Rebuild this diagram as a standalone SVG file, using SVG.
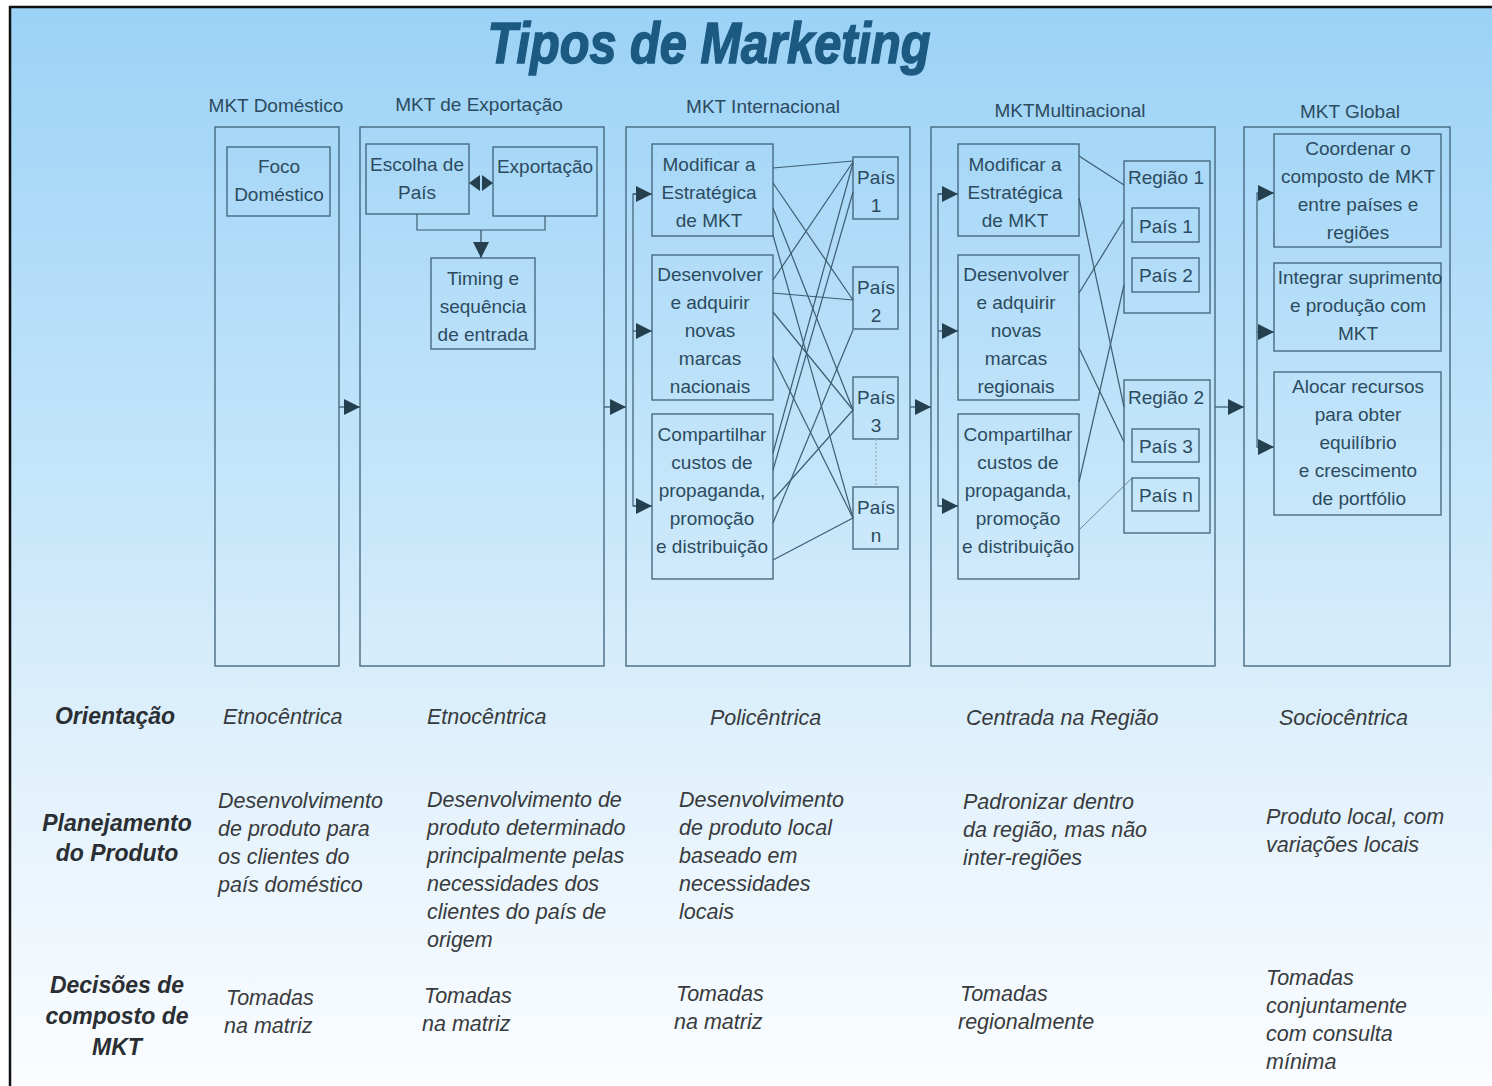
<svg xmlns="http://www.w3.org/2000/svg" width="1492" height="1086" viewBox="0 0 1492 1086">
<defs>
<linearGradient id="bg" x1="0" y1="0" x2="0" y2="1">
<stop offset="0" stop-color="#9bd2f6"/>
<stop offset="0.45" stop-color="#c6e6fa"/>
<stop offset="0.75" stop-color="#e6f3fc"/>
<stop offset="1" stop-color="#fbfdff"/>
</linearGradient>
<marker id="ah" viewBox="0 0 10 10" refX="10" refY="5" markerWidth="16" markerHeight="18" markerUnits="userSpaceOnUse" orient="auto">
<path d="M0,0 L10,5 L0,10 Z" fill="#24404f"/>
</marker>
</defs>
<style>
.frame{fill:none;stroke:#3f6178;stroke-width:1.3}
.box{fill:none;stroke:#3f6178;stroke-width:1.3}
.t{font-family:"Liberation Sans",Arial,sans-serif;font-size:19px;fill:#2c4b5f;text-anchor:middle}
.h{font-family:"Liberation Sans",Arial,sans-serif;font-size:19px;fill:#2c4b5f;text-anchor:middle}
.rl{font-family:"Liberation Sans",Arial,sans-serif;font-size:23px;font-weight:bold;font-style:italic;fill:#2b2f33;text-anchor:middle}
.it{font-family:"Liberation Sans",Arial,sans-serif;font-size:21.5px;font-style:italic;fill:#383b3e}
.ln{fill:none;stroke:#3d5d72;stroke-width:1.2}
.ar{fill:none;stroke:#3d5d72;stroke-width:1.3;marker-end:url(#ah)}
.hd{fill:#24404f}
</style>
<rect x="0" y="0" width="1492" height="1086" fill="#ffffff"/>
<rect x="10" y="7" width="1482" height="1079" fill="url(#bg)"/>
<line x1="9" y1="7" x2="1492" y2="7" stroke="#111" stroke-width="2.5"/>
<line x1="10" y1="6" x2="10" y2="1086" stroke="#111" stroke-width="2.5"/>

<text x="709" y="63" font-family="Liberation Sans,Arial,sans-serif" font-size="58" font-weight="bold" font-style="italic" fill="#1d5a82" stroke="#1d5a82" stroke-width="1.6" text-anchor="middle" textLength="443" lengthAdjust="spacingAndGlyphs">Tipos de Marketing</text>

<!-- column headers -->
<text class="h" x="276" y="112">MKT Doméstico</text>
<text class="h" x="479" y="111">MKT de Exportação</text>
<text class="h" x="763" y="113">MKT Internacional</text>
<text class="h" x="1070" y="117">MKTMultinacional</text>
<text class="h" x="1350" y="118">MKT Global</text>

<!-- frames -->
<g id="frame-domestico"><rect class="frame" x="215" y="127" width="124" height="539"/></g>
<g id="frame-exportacao"><rect class="frame" x="360" y="127" width="244" height="539"/></g>
<g id="frame-internacional"><rect class="frame" x="626" y="127" width="284" height="539"/></g>
<g id="frame-multinacional"><rect class="frame" x="931" y="127" width="284" height="539"/></g>
<g id="frame-global"><rect class="frame" x="1244" y="127" width="206" height="539"/></g>

<!-- domestic -->
<g id="foco"><rect class="box" x="227" y="147" width="103" height="69"/>
<text class="t" x="279" y="173">Foco</text><text class="t" x="279" y="201">Doméstico</text></g>

<!-- export -->
<g id="escolha"><rect class="box" x="366" y="144" width="103" height="70"/>
<text class="t" x="417" y="171">Escolha de</text><text class="t" x="417" y="199">País</text></g>
<g id="exportacao"><rect class="box" x="493" y="147" width="104" height="69"/>
<text class="t" x="545" y="173">Exportação</text></g>
<g id="timing"><rect class="box" x="431" y="258" width="104" height="91"/>
<text class="t" x="483" y="285">Timing e</text><text class="t" x="483" y="313">sequência</text><text class="t" x="483" y="341">de entrada</text></g>

<!-- international -->
<g id="int-modificar"><rect class="box" x="652" y="144" width="121" height="92"/>
<text class="t" x="709" y="171">Modificar a</text><text class="t" x="709" y="199">Estratégica</text><text class="t" x="709" y="227">de MKT</text></g>
<g id="int-desenvolver"><rect class="box" x="652" y="255" width="121" height="145"/>
<text class="t" x="710" y="281">Desenvolver</text><text class="t" x="710" y="309">e adquirir</text><text class="t" x="710" y="337">novas</text><text class="t" x="710" y="365">marcas</text><text class="t" x="710" y="393">nacionais</text></g>
<g id="int-compartilhar"><rect class="box" x="652" y="414" width="121" height="165"/>
<text class="t" x="712" y="441">Compartilhar</text><text class="t" x="712" y="469">custos de</text><text class="t" x="712" y="497">propaganda,</text><text class="t" x="712" y="525">promoção</text><text class="t" x="712" y="553">e distribuição</text></g>
<g id="int-pais1"><rect class="box" x="853" y="157" width="45" height="62"/>
<text class="t" x="876" y="184">País</text><text class="t" x="876" y="212">1</text></g>
<g id="int-pais2"><rect class="box" x="853" y="267" width="45" height="62"/>
<text class="t" x="876" y="294">País</text><text class="t" x="876" y="322">2</text></g>
<g id="int-pais3"><rect class="box" x="853" y="377" width="45" height="62"/>
<text class="t" x="876" y="404">País</text><text class="t" x="876" y="432">3</text></g>
<g id="int-paisn"><rect class="box" x="853" y="487" width="45" height="62"/>
<text class="t" x="876" y="514">País</text><text class="t" x="876" y="542">n</text></g>

<!-- multinational -->
<g id="mn-modificar"><rect class="box" x="958" y="144" width="121" height="92"/>
<text class="t" x="1015" y="171">Modificar a</text><text class="t" x="1015" y="199">Estratégica</text><text class="t" x="1015" y="227">de MKT</text></g>
<g id="mn-desenvolver"><rect class="box" x="958" y="255" width="121" height="145"/>
<text class="t" x="1016" y="281">Desenvolver</text><text class="t" x="1016" y="309">e adquirir</text><text class="t" x="1016" y="337">novas</text><text class="t" x="1016" y="365">marcas</text><text class="t" x="1016" y="393">regionais</text></g>
<g id="mn-compartilhar"><rect class="box" x="958" y="414" width="121" height="165"/>
<text class="t" x="1018" y="441">Compartilhar</text><text class="t" x="1018" y="469">custos de</text><text class="t" x="1018" y="497">propaganda,</text><text class="t" x="1018" y="525">promoção</text><text class="t" x="1018" y="553">e distribuição</text></g>
<g id="mn-regiao1"><rect class="box" x="1124" y="161" width="86" height="152"/>
<text class="t" x="1166" y="184">Região 1</text></g>
<g id="mn-pais1"><rect class="box" x="1132" y="208" width="67" height="34"/>
<text class="t" x="1166" y="233">País 1</text></g>
<g id="mn-pais2"><rect class="box" x="1132" y="258" width="67" height="34"/>
<text class="t" x="1166" y="282">País 2</text></g>
<g id="mn-regiao2"><rect class="box" x="1124" y="380" width="86" height="153"/>
<text class="t" x="1166" y="404">Região 2</text></g>
<g id="mn-pais3"><rect class="box" x="1132" y="429" width="67" height="33"/>
<text class="t" x="1166" y="453">País 3</text></g>
<g id="mn-paisn"><rect class="box" x="1132" y="478" width="67" height="33"/>
<text class="t" x="1166" y="502">País n</text></g>

<!-- global -->
<g id="gl-coordenar"><rect class="box" x="1274" y="134" width="167" height="113"/>
<text class="t" x="1358" y="155">Coordenar o</text><text class="t" x="1358" y="183">composto de MKT</text><text class="t" x="1358" y="211">entre países e</text><text class="t" x="1358" y="239">regiões</text></g>
<g id="gl-integrar"><rect class="box" x="1274" y="263" width="167" height="88"/>
<text class="t" x="1360" y="284">Integrar suprimento</text><text class="t" x="1358" y="312">e produção com</text><text class="t" x="1358" y="340">MKT</text></g>
<g id="gl-alocar"><rect class="box" x="1274" y="372" width="167" height="143"/>
<text class="t" x="1358" y="393">Alocar recursos</text><text class="t" x="1358" y="421">para obter</text><text class="t" x="1358" y="449">equilíbrio</text><text class="t" x="1358" y="477">e crescimento</text><text class="t" x="1359" y="505">de portfólio</text></g>

<!-- connectors -->
<g id="connectors">
<line class="ar" x1="339" y1="407" x2="360" y2="407"/>
<line class="ar" x1="604" y1="407" x2="626" y2="407"/>
<line class="ar" x1="910" y1="407" x2="931" y2="407"/>
<line class="ar" x1="1215" y1="407" x2="1244" y2="407"/>

<!-- export internal -->
<path class="hd" d="M480,175 L469,183 L480,191 Z"/>
<path class="hd" d="M482,175 L493,183 L482,191 Z"/>
<path class="ln" d="M417,214 V230 H545 V216"/>
<line x1="481" y1="230" x2="481" y2="258" stroke="#3d5d72" stroke-width="1.3" marker-end="url(#ah)"/>

<!-- international fan-in -->
<path class="ln" d="M640,194 H633 V506 H640"/>
<line class="ar" x1="633" y1="194" x2="652" y2="194"/>
<line class="ar" x1="633" y1="331" x2="652" y2="331"/>
<line class="ar" x1="633" y1="506" x2="652" y2="506"/>
<line class="ln" x1="773" y1="168" x2="853" y2="161"/>
<line class="ln" x1="773" y1="183" x2="853" y2="300"/>
<line class="ln" x1="773" y1="208" x2="853" y2="410"/>
<line class="ln" x1="773" y1="235" x2="853" y2="518"/>
<line class="ln" x1="773" y1="280" x2="853" y2="162"/>
<line class="ln" x1="773" y1="293" x2="853" y2="300"/>
<line class="ln" x1="773" y1="312" x2="853" y2="410"/>
<line class="ln" x1="773" y1="357" x2="853" y2="518"/>
<line class="ln" x1="773" y1="453" x2="853" y2="163"/>
<line class="ln" x1="773" y1="470" x2="853" y2="192"/>
<line class="ln" x1="773" y1="523" x2="853" y2="330"/>
<line class="ln" x1="773" y1="500" x2="853" y2="410"/>
<line class="ln" x1="773" y1="560" x2="853" y2="518"/>
<line x1="876" y1="439" x2="876" y2="487" stroke="#9aa9b3" stroke-width="1.2" stroke-dasharray="2,2"/>

<!-- multinational -->
<path class="ln" d="M945,194 H938 V506 H945"/>
<line class="ar" x1="938" y1="194" x2="958" y2="194"/>
<line class="ar" x1="938" y1="331" x2="958" y2="331"/>
<line class="ar" x1="938" y1="506" x2="958" y2="506"/>
<line class="ln" x1="1079" y1="156" x2="1124" y2="185"/>
<line class="ln" x1="1079" y1="198" x2="1124" y2="407"/>
<line class="ln" x1="1079" y1="293" x2="1124" y2="220"/>
<line class="ln" x1="1079" y1="348" x2="1124" y2="442"/>
<line class="ln" x1="1079" y1="482" x2="1124" y2="285"/>
<line x1="1079" y1="530" x2="1132" y2="478" stroke="#6f8797" stroke-width="1"/>

<!-- global -->
<path class="ln" d="M1263,193 H1257 V447 H1263"/>
<line class="ar" x1="1257" y1="193" x2="1274" y2="193"/>
<line class="ar" x1="1257" y1="332" x2="1274" y2="332"/>
<line class="ar" x1="1257" y1="447" x2="1274" y2="447"/>
</g>

<!-- row labels -->
<g id="row-labels">
<text class="rl" x="115" y="724">Orientação</text>
<text class="rl" x="117" y="831">Planejamento</text>
<text class="rl" x="117" y="861">do Produto</text>
<text class="rl" x="117" y="993">Decisões de</text>
<text class="rl" x="117" y="1024">composto de</text>
<text class="rl" x="117" y="1055">MKT</text>
</g>

<g id="row-orientacao">
<text class="it" x="223" y="724">Etnocêntrica</text>
<text class="it" x="427" y="724">Etnocêntrica</text>
<text class="it" x="710" y="725">Policêntrica</text>
<text class="it" x="966" y="725">Centrada na Região</text>
<text class="it" x="1279" y="725">Sociocêntrica</text>
</g>

<g id="row-planejamento">
<text class="it" x="218" y="808">Desenvolvimento</text>
<text class="it" x="218" y="836">de produto para</text>
<text class="it" x="218" y="864">os clientes do</text>
<text class="it" x="218" y="892">país doméstico</text>
<text class="it" x="427" y="807">Desenvolvimento de</text>
<text class="it" x="427" y="835">produto determinado</text>
<text class="it" x="427" y="863">principalmente pelas</text>
<text class="it" x="427" y="891">necessidades dos</text>
<text class="it" x="427" y="919">clientes do país de</text>
<text class="it" x="427" y="947">origem</text>
<text class="it" x="679" y="807">Desenvolvimento</text>
<text class="it" x="679" y="835">de produto local</text>
<text class="it" x="679" y="863">baseado em</text>
<text class="it" x="679" y="891">necessidades</text>
<text class="it" x="679" y="919">locais</text>
<text class="it" x="963" y="809">Padronizar dentro</text>
<text class="it" x="963" y="837">da região, mas não</text>
<text class="it" x="963" y="865">inter-regiões</text>
<text class="it" x="1266" y="824">Produto local, com</text>
<text class="it" x="1266" y="852">variações locais</text>
</g>

<g id="row-decisoes">
<text class="it" x="226" y="1005">Tomadas</text>
<text class="it" x="224" y="1033">na matriz</text>
<text class="it" x="424" y="1003">Tomadas</text>
<text class="it" x="422" y="1031">na matriz</text>
<text class="it" x="676" y="1001">Tomadas</text>
<text class="it" x="674" y="1029">na matriz</text>
<text class="it" x="960" y="1001">Tomadas</text>
<text class="it" x="958" y="1029">regionalmente</text>
<text class="it" x="1266" y="985">Tomadas</text>
<text class="it" x="1266" y="1013">conjuntamente</text>
<text class="it" x="1266" y="1041">com consulta</text>
<text class="it" x="1266" y="1069">mínima</text>
</g>
</svg>
